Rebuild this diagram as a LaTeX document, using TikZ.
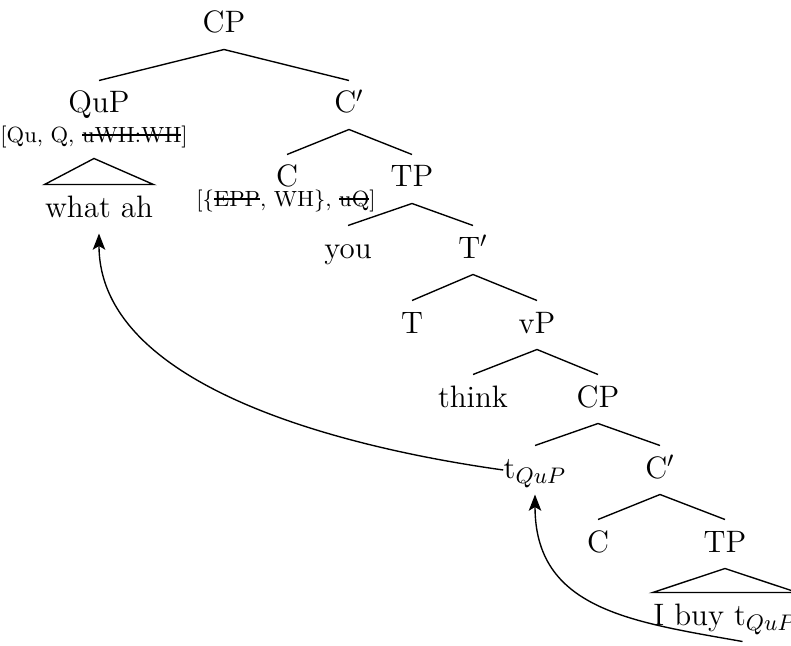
\documentclass[tikz,border=0pt]{standalone}
\usetikzlibrary{arrows.meta}
\newsavebox{\strkbox}
\newcommand{\strk}[1]{\sbox{\strkbox}{#1}\rlap{\rule[0.33em]{\wd\strkbox}{0.5pt}}\usebox{\strkbox}}

\begin{document}
\begin{tikzpicture}[
    x=0.4pt, y=-0.4pt,
    cat/.style={inner sep=0pt, anchor=base, text height=12.8pt, text depth=6.4pt, font=\fontsize{12.4}{14}\selectfont},
    feat/.style={inner sep=0pt, anchor=base, text height=6pt, text depth=6pt, font=\fontsize{8.8}{10}\selectfont},
    branch/.style={line width=0.55pt},
    move/.style={-{Stealth[length=6.5pt, width=5pt, inset=1.5pt]}, line width=0.55pt}
]
\useasboundingbox (0,0) rectangle (791,645);

% top CP
\node[cat] (cp1)   at (224,33)  {CP};
\node[cat] (qup)   at (99,113)  {QuP};
\node[feat] (qufeat) at (94,143) {[Qu, Q, \strk{uWH:WH}]};
\node[cat] (whatah) at (99,217) {what ah};
\node[cat] (cbar1) at (349,113) {C$'$};
\node[cat] (c1)    at (287,187) {C};
\node[feat] (cfeat) at (286,207) {[\{\strk{EPP}, WH\}, \strk{uQ}]};
\node[cat] (tp1)   at (412,187) {TP};
\node[cat] (you)   at (348,258) {you};
\node[cat] (tbar)  at (473,258) {T$'$};
\node[cat] (t)     at (412,333) {T};
\node[cat] (vp)    at (537,333) {vP};
\node[cat] (think) at (473,407) {think};
% embedded CP
\node[cat] (cp2)   at (598,407) {CP};
\node[cat] (trace) at (535,478) {t$_{QuP}$};
\node[cat] (cbar2) at (660,478) {C$'$};
\node[cat] (c2)    at (598,552) {C};
\node[cat] (tp2)   at (725,552) {TP};
\node[cat] (ibuy)  at (725,625) {I buy t$_{QuP}$};

\draw[branch] (qup.north) -- (cp1.south) -- (cbar1.north);
\draw[branch] (c1.north) -- (cbar1.south) -- (tp1.north);
\draw[branch] (you.north) -- (tp1.south) -- (tbar.north);
\draw[branch] (t.north) -- (tbar.south) -- (vp.north);
\draw[branch] (think.north) -- (vp.south) -- (cp2.north);
\draw[branch] (trace.north) -- (cp2.south) -- (cbar2.north);
\draw[branch] (c2.north) -- (cbar2.south) -- (tp2.north);
% roofs
\draw[branch] (qufeat.south) -- (whatah.north west) -- (whatah.north east) -- cycle;
\draw[branch] (tp2.south) -- (ibuy.north west) -- (ibuy.north east) -- cycle;

% movement
\draw[move] (trace.west) to[out=172, in=-90, in looseness=0.8] (whatah.south);
\draw[move] ([xshift=7pt]ibuy.south) to[out=170, in=-90, looseness=1.15] (trace.south);
\end{tikzpicture}
\end{document}
